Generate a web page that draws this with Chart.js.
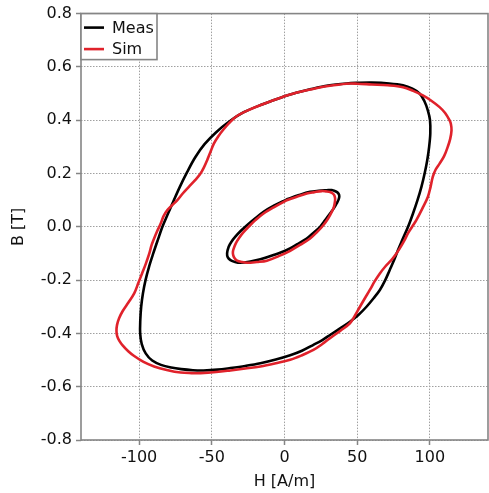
<!DOCTYPE html>
<html><head><meta charset="utf-8">
<script src="https://cdn.jsdelivr.net/npm/chart.js@4"></script>
<style>html,body{margin:0;padding:0;background:#fff;overflow:hidden}#wrap{width:489px;height:493px}</style>
</head><body><div id="wrap"><canvas id="c" width="489" height="493"></canvas></div>
<script>
const seriesNames = ["Meas", "Sim"];
const seriesColors = ["#000000", "#e0222b"];
const xTicks = [-100, -50, 0, 50, 100];
const yTicks = [-0.8, -0.6, -0.4, -0.2, 0, 0.2, 0.4, 0.6, 0.8];
const xTitle = "H [A/m]";
const yTitle = "B [T]";

// Measured major loop
const measOuterH = [0, -15, -28, -38, -47, -55, -61.5, -67, -72, -76.5, -80.5, -84, -87.2, -90.3, -93.2, -95.6, -97.4, -98.6, -99.2, -99.3, -98.2, -95.5, -91, -85, -78, -71, -63, -55.7, -46, -37.2, -27, -16.6, -6, 3.9, 12, 19.9, 26, 31.3, 38.5, 45, 51, 56.4, 61.3, 65.6, 69.3, 72.4, 75.4, 78.1, 81, 85, 88.4, 91.5, 94.2, 96.4, 98.2, 99.5, 100.3, 100.1, 98.6, 96.2, 93, 88, 81.5, 72, 60, 50, 42.7, 30, 17.6, 8, 0];
const measOuterB = [0.49, 0.46, 0.43, 0.395, 0.355, 0.31, 0.26, 0.205, 0.15, 0.095, 0.045, 0.0, -0.05, -0.10, -0.15, -0.20, -0.25, -0.30, -0.35, -0.40, -0.44, -0.475, -0.502, -0.518, -0.528, -0.534, -0.538, -0.539, -0.536, -0.530, -0.522, -0.512, -0.498, -0.482, -0.465, -0.443, -0.425, -0.406, -0.38, -0.356, -0.33, -0.30, -0.268, -0.237, -0.2, -0.162, -0.125, -0.087, -0.05, 0.0, 0.05, 0.10, 0.15, 0.20, 0.25, 0.30, 0.35, 0.40, 0.437, 0.472, 0.50, 0.518, 0.531, 0.538, 0.541, 0.54, 0.538, 0.53, 0.516, 0.503, 0.49];

// Simulated major loop
const simOuterH = [0, -15, -26, -33, -38, -42, -45.5, -48.6, -51, -53.2, -55.5, -58, -61.5, -65.8, -70, -73.7, -77.5, -80.6, -83.2, -85.1, -87.5, -89.7, -91.5, -93, -95.5, -98, -100.5, -103.4, -107.5, -111.2, -113.8, -115.2, -115.6, -115.1, -113.6, -111.2, -107.5, -103.4, -97, -89.7, -81, -71.4, -64, -57.7, -47, -37.2, -27, -16.6, -6, 3.9, 12, 19.9, 26, 31.3, 38.5, 45, 48.5, 51.9, 55.3, 58.7, 62, 65.6, 69.5, 73.5, 76.5, 79.3, 82.2, 84.9, 87.8, 90.7, 94.8, 98.6, 100.5, 102, 104, 106.7, 109.8, 112.3, 114, 114.9, 114.5, 113.5, 110.5, 106.7, 101, 95.2, 88.5, 81.5, 71, 60, 50, 42.7, 30, 17.6, 8, 0];
const simOuterB = [0.49, 0.46, 0.435, 0.415, 0.39, 0.365, 0.34, 0.312, 0.28, 0.25, 0.222, 0.198, 0.175, 0.15, 0.125, 0.10, 0.08, 0.0625, 0.04, 0.013, -0.015, -0.044, -0.07, -0.10, -0.14, -0.175, -0.21, -0.25, -0.285, -0.315, -0.343, -0.368, -0.39, -0.41, -0.428, -0.446, -0.467, -0.485, -0.507, -0.524, -0.537, -0.547, -0.549, -0.549, -0.545, -0.539, -0.532, -0.524, -0.512, -0.499, -0.482, -0.462, -0.44, -0.418, -0.39, -0.362, -0.333, -0.30, -0.268, -0.237, -0.205, -0.175, -0.148, -0.125, -0.104, -0.081, -0.054, -0.025, 0.0, 0.025, 0.068, 0.112, 0.15, 0.187, 0.215, 0.237, 0.265, 0.30, 0.33, 0.362, 0.385, 0.40, 0.427, 0.449, 0.473, 0.493, 0.51, 0.524, 0.531, 0.534, 0.537, 0.537, 0.528, 0.515, 0.503, 0.49];

// Measured minor loop
const measInnerH = [1.6, -7, -14.4, -20.5, -25.8, -30, -33.8, -36.5, -38.4, -39.5, -39, -37.2, -34, -30.3, -23.5, -16.6, -7.5, 1.6, 8.5, 15.3, 20, 24.5, 28, 31.3, 34, 35.9, 37.2, 37.7, 37.2, 35.9, 34.3, 32.5, 29.0, 23.5, 17.6, 9.5, 1.6];
const measInnerB = [0.103, 0.08, 0.056, 0.03, 0.006, -0.015, -0.037, -0.056, -0.075, -0.10, -0.115, -0.125, -0.132, -0.135, -0.13, -0.122, -0.106, -0.087, -0.066, -0.044, -0.022, 0.0, 0.025, 0.05, 0.07, 0.088, 0.102, 0.115, 0.124, 0.131, 0.135, 0.138, 0.137, 0.135, 0.131, 0.118, 0.103];

// Simulated minor loop
const simInnerH = [1.6, -6.5, -14.4, -20, -24.7, -28.5, -31.5, -33.5, -34.9, -35.5, -35.3, -34.3, -32.6, -29.5, -25.8, -19, -12.1, -4, 3.9, 11, 17.6, 22.5, 26.7, 30, 32.5, 34, 34.7, 34.8, 34.2, 33, 31.3, 28.5, 25.6, 20.5, 15.3, 8.5, 1.6];
const simInnerB = [0.10, 0.076, 0.05, 0.025, 0.0, -0.022, -0.044, -0.062, -0.081, -0.094, -0.106, -0.118, -0.127, -0.132, -0.135, -0.132, -0.127, -0.11, -0.09, -0.067, -0.044, -0.019, 0.006, 0.031, 0.056, 0.075, 0.094, 0.107, 0.119, 0.126, 0.131, 0.133, 0.134, 0.13, 0.125, 0.113, 0.10];

function pts(h, b) { return h.map((x, i) => ({ x: x, y: b[i] })); }

const FONT = "'DejaVu Sans', sans-serif";
const GRID = "#a0a0a0";
const FRAME = "#858585";

function ds(label, h, b, color, order, tension) {
  return { label: label, data: pts(h, b), showLine: true, borderColor: color, backgroundColor: color,
    borderWidth: 2.6, pointRadius: 0, pointHoverRadius: 0, tension: tension, fill: false, order: order,
    borderCapStyle: 'round', borderJoinStyle: 'round' };
}

const framePlugin = {
  id: 'frame',
  afterDatasetsDraw(chart) {
    const a = chart.chartArea, ctx = chart.ctx;
    ctx.save();
    ctx.strokeStyle = FRAME; ctx.lineWidth = 1.6;
    ctx.strokeRect(a.left, a.top, a.right - a.left, a.bottom - a.top);
    ctx.restore();
  }
};

const legendPlugin = {
  id: 'boxLegend',
  afterDraw(chart) {
    const a = chart.chartArea, ctx = chart.ctx;
    const x0 = a.left, y0 = a.top, w = 76, h = 46;
    ctx.save();
    ctx.fillStyle = '#fff';
    ctx.fillRect(x0, y0, w, h);
    ctx.strokeStyle = FRAME; ctx.lineWidth = 1.6;
    ctx.strokeRect(x0, y0, w, h);
    ctx.font = "16px " + FONT;
    ctx.textBaseline = 'middle';
    seriesNames.forEach((name, i) => {
      const yy = y0 + 14 + i * 21.5;
      ctx.strokeStyle = seriesColors[i]; ctx.lineWidth = 2.6;
      ctx.beginPath(); ctx.moveTo(x0 + 3, yy); ctx.lineTo(x0 + 23, yy); ctx.stroke();
      ctx.fillStyle = '#111';
      ctx.fillText(name, x0 + 31, yy + 1);
    });
    ctx.restore();
  }
};

new Chart(document.getElementById('c'), {
  type: 'scatter',
  data: {
    datasets: [
      ds(seriesNames[0], measOuterH, measOuterB, seriesColors[0], 2, 0.35),
      ds(seriesNames[1], simOuterH, simOuterB, seriesColors[1], 1, 0.35),
      ds(seriesNames[0] + ' minor', measInnerH, measInnerB, seriesColors[0], 2, 0.35),
      ds(seriesNames[1] + ' minor', simInnerH, simInnerB, seriesColors[1], 1, 0.35)
    ]
  },
  options: {
    responsive: false,
    animation: false,
    devicePixelRatio: 1,
    layout: { padding: { top: 13, right: 1, left: 0, bottom: 0 } },
    plugins: { legend: { display: false }, tooltip: { enabled: false } },
    scales: {
      x: {
        type: 'linear', min: -140, max: 140,
        afterBuildTicks(s) { s.ticks = xTicks.map(v => ({ value: v })); },
        afterFit(s) { s.height = 53; },
        grid: { color: GRID, lineWidth: 1, tickLength: 5, tickColor: FRAME, tickWidth: 1.5, tickBorderDash: [] },
        border: { display: false, dash: [1.5, 1.5] },
        ticks: { color: '#111', font: { family: FONT, size: 16 }, padding: 3, maxRotation: 0 },
        title: { display: true, text: xTitle, color: '#111', font: { family: FONT, size: 16 }, padding: { top: 0, bottom: 2 } }
      },
      y: {
        type: 'linear', min: -0.8, max: 0.8,
        afterBuildTicks(s) { s.ticks = yTicks.map(v => ({ value: v })); },
        afterFit(s) { s.width = 81; },
        grid: { color: GRID, lineWidth: 1, tickLength: 5, tickColor: FRAME, tickWidth: 1.5, tickBorderDash: [] },
        border: { display: false, dash: [1.5, 1.5] },
        ticks: { color: '#111', font: { family: FONT, size: 16 }, padding: 4, callback: v => v.toFixed(1) },
        title: { display: true, text: yTitle, color: '#111', font: { family: FONT, size: 16 }, padding: { top: 9, bottom: 0 } }
      }
    }
  },
  plugins: [framePlugin, legendPlugin]
});
</script>
</body></html>
